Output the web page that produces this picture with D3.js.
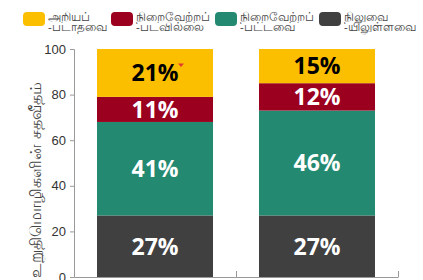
<!DOCTYPE html>
<html>
<head>
<meta charset="utf-8">
<script src="https://cdn.jsdelivr.net/npm/d3@7"></script>
<style>
  body { margin: 0; background: #fff; }
  svg { font-family: "Noto Sans", "Open Sans", sans-serif; }
</style>
</head>
<body>
<div id="chart"></div>
<script>
// data
const bars = ["a", "b"];
const seriesKeys = ["pending", "kept", "broken", "unknown"];
const seriesNames = [
    ["நிலுவை", "-யிலுள்ளவை"],
    ["நிறைவேற்றப்", "-பட்டவை"],
    ["நிறைவேற்றப்", "-படவில்லை"],
    ["அறியப்", "-படாதவை"]
];
const pending = [27, 27];
const kept = [41, 46];
const broken = [11, 12];
const unknown = [21, 15];
const yTicks = [0, 20, 40, 60, 80, 100];
const yLabel = "உறுதிமொழிகளின் சதவீதம்";

const colors = ["#404040", "#238970", "#9b001f", "#fbbf00"];
const textColors = ["#fff", "#fff", "#fff", "#000"];

const width = 423, height = 280;
const plotLeft = 74, plotRight = 398, plotTop = 49, plotBottom = 277;

const rows = bars.map((b, i) => ({
    bar: b, pending: pending[i], kept: kept[i], broken: broken[i], unknown: unknown[i]
}));
const stacked = d3.stack().keys(seriesKeys)(rows);

const svg = d3.select('#chart').append('svg')
    .attr('width', width)
    .attr('height', height);

const x = d3.scaleBand().domain(bars).range([plotLeft, plotRight]).paddingInner(0.284).paddingOuter(0.142);
const y = d3.scaleLinear().domain([0, 100]).range([plotBottom, plotTop]);

// bars
const layers = svg.selectAll('g.layer')
    .data(stacked)
    .enter().append('g')
        .attr('class', 'layer')
        .attr('fill', (d, i) => colors[i]);

layers.selectAll('rect')
    .data(d => d)
    .enter().append('rect')
        .attr('x', d => x(d.data.bar))
        .attr('y', d => y(d[1]))
        .attr('width', x.bandwidth())
        .attr('height', d => y(d[0]) - y(d[1]));

layers.each(function(layer, li) {
    d3.select(this).selectAll('text')
        .data(layer)
        .enter().append('text')
            .attr('x', d => x(d.data.bar) + x.bandwidth() / 2)
            .attr('y', d => (y(d[0]) + y(d[1])) / 2)
            .attr('dy', '0.36em')
            .attr('text-anchor', 'middle')
            .attr('font-family', '"Open Sans", sans-serif')
            .attr('font-weight', 700)
            .attr('font-size', 23)
            .attr('fill', textColors[li])
            .text(d => (d[1] - d[0]) + '%');
});

// small red marker next to 21%
const u0 = stacked[3][0];
const mx = x(bars[0]) + x.bandwidth() / 2 + 26;
const my = (y(u0[0]) + y(u0[1])) / 2 - 8;
svg.append('path')
    .attr('d', `M${mx - 3},${my - 1.5}L${mx + 3},${my - 1.5}L${mx},${my + 2}Z`)
    .attr('fill', '#e03a2f');

// y axis
const yAxis = svg.append('g')
    .attr('transform', `translate(${plotLeft},0)`)
    .call(d3.axisLeft(y).tickValues(yTicks).tickSize(4).tickPadding(4));
yAxis.select('.domain').attr('stroke', '#999');
yAxis.selectAll('.tick line').attr('stroke', '#999');
yAxis.selectAll('.tick text')
    .attr('font-family', '"Liberation Sans", Arial, sans-serif')
    .attr('font-size', 13)
    .attr('fill', '#333');

// x axis: line + band boundary ticks
const xb = d3.scaleLinear().domain([0, bars.length]).range([plotLeft, plotRight]);
const xAxis = svg.append('g')
    .attr('transform', `translate(0,${plotBottom})`)
    .call(d3.axisBottom(xb).ticks(bars.length).tickSize(-6).tickSizeOuter(0).tickFormat(''));
xAxis.select('.domain').attr('stroke', '#999');
xAxis.selectAll('.tick line').attr('stroke', '#999');
xAxis.selectAll('.tick').filter(d => d === 0).remove();

// y label
svg.append('text')
    .attr('transform', `translate(41,180) rotate(-90)`)
    .attr('text-anchor', 'middle')
    .attr('font-size', 15.5)
    .attr('fill', '#444')
    .text(yLabel);

// legend (order: unknown, broken, kept, pending)
const legendOrder = [3, 2, 1, 0];
const legendX = [23, 111, 215, 319];
const legend = svg.selectAll('g.legend')
    .data(legendOrder)
    .enter().append('g')
        .attr('class', 'legend')
        .attr('transform', (d, i) => `translate(${legendX[i]},12)`);

legend.append('rect')
    .attr('width', 22)
    .attr('height', 14)
    .attr('rx', 4)
    .attr('fill', d => colors[d]);

legend.append('text')
    .attr('x', 25)
    .attr('y', 8.5)
    .attr('font-size', 11.5)
    .attr('fill', '#444')
    .selectAll('tspan')
    .data(d => seriesNames[d])
    .enter().append('tspan')
        .attr('x', 25)
        .attr('dy', (d, i) => i === 0 ? 0 : 10)
        .text(d => d);
</script>
</body>
</html>
